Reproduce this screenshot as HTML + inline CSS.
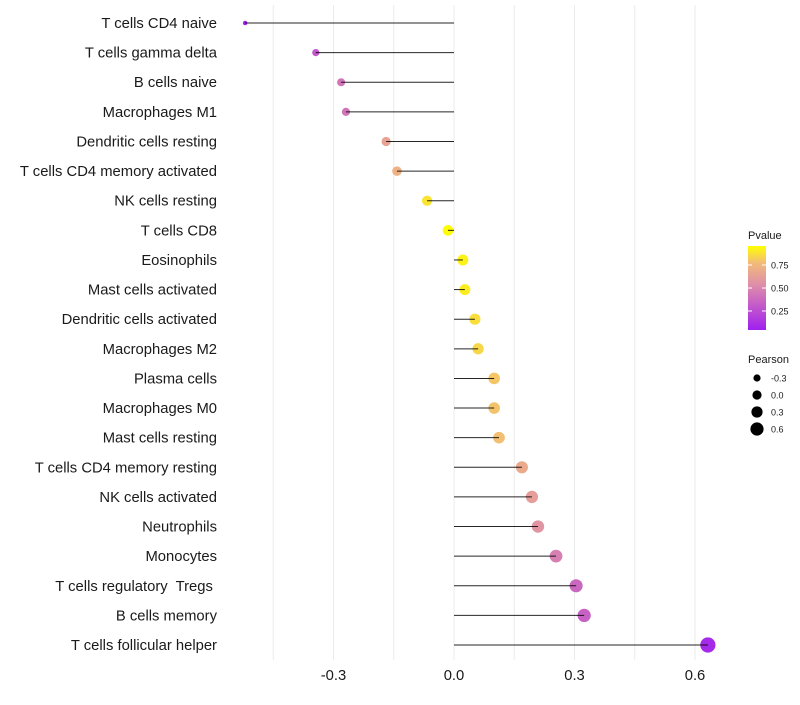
<!DOCTYPE html>
<html><head><meta charset="utf-8"><style>
body{margin:0;background:#fff;font-family:"Liberation Sans",sans-serif;}
svg text{font-family:"Liberation Sans",sans-serif;white-space:pre;}
</style></head><body>
<svg id="chart" width="800" height="700" xmlns="http://www.w3.org/2000/svg">
<defs>
<linearGradient id="pg" x1="0" y1="1" x2="0" y2="0">
<stop offset="0" stop-color="#a020f0"/>
<stop offset="0.3" stop-color="#c45cc8"/>
<stop offset="0.55" stop-color="#df90a8"/>
<stop offset="0.8" stop-color="#f2bc78"/>
<stop offset="1" stop-color="#ffff00"/>
</linearGradient>
</defs>
<g id="grid"></g>
<g id="marks"></g>
<g id="labels"></g>
<g id="legend"></g>
</svg>
<script>
const categories=["T cells CD4 naive","T cells gamma delta","B cells naive","Macrophages M1","Dendritic cells resting","T cells CD4 memory activated","NK cells resting","T cells CD8","Eosinophils","Mast cells activated","Dendritic cells activated","Macrophages M2","Plasma cells","Macrophages M0","Mast cells resting","T cells CD4 memory resting","NK cells activated","Neutrophils","Monocytes","T cells regulatory  Tregs ","B cells memory","T cells follicular helper"];
const pearson=[-0.52,-0.344,-0.281,-0.269,-0.169,-0.142,-0.067,-0.015,0.022,0.027,0.052,0.060,0.100,0.100,0.112,0.169,0.194,0.209,0.254,0.304,0.324,0.632];
const pvalue=[0.02,0.28,0.42,0.42,0.66,0.74,0.92,0.99,0.96,0.95,0.9,0.88,0.83,0.82,0.81,0.7,0.63,0.58,0.47,0.36,0.33,0.05];
const xTicks=[-0.3,0.0,0.3,0.6];
const xTickLabels=["-0.3","0.0","0.3","0.6"];
const ns="http://www.w3.org/2000/svg";
function x(v){return 454+v*401.7;}
function y(i){return 23+i*29.62;}
function r(v){return Math.sqrt(Math.max(3,29+46*v));}
function colorOf(p){
  const stops=[[0,[160,32,240]],[0.3,[196,92,200]],[0.55,[223,144,168]],[0.8,[242,188,120]],[1,[255,255,0]]];
  for(let k=1;k<stops.length;k++){if(p<=stops[k][0]){const a=stops[k-1],b=stops[k];const t=(p-a[0])/(b[0]-a[0]);
    return "rgb("+a[1].map((c,j)=>Math.round(c+(b[1][j]-c)*t)).join(",")+")";}}
  return "rgb(255,255,0)";
}
function el(t,attrs,parent){const e=document.createElementNS(ns,t);for(const k in attrs)e.setAttribute(k,attrs[k]);parent.appendChild(e);return e;}
const grid=document.getElementById('grid'),marks=document.getElementById('marks'),labels=document.getElementById('labels'),legend=document.getElementById('legend');
[-0.45,-0.3,-0.15,0,0.15,0.3,0.45,0.6].forEach(v=>{
  const g=el('line',{x1:x(v),x2:x(v),y1:5,y2:660,stroke:'#ebebeb','stroke-width':1},grid);
  
  
});
categories.forEach((c,i)=>{
  const pt=el('circle',{cx:x(pearson[i]),cy:y(i),r:r(pearson[i]),fill:colorOf(pvalue[i])},marks);
  
  
  const ln=el('line',{x1:x(0),x2:x(pearson[i]),y1:y(i),y2:y(i),stroke:'#000','stroke-width':1,'stroke-opacity':0.85},marks);
  
  
  const t=el('text',{x:217,y:y(i)+5,'text-anchor':'end','font-size':14.8,fill:'#1a1a1a'},labels);
  t.textContent=c;
  
  
});
xTicks.forEach((v,i)=>{
  const t=el('text',{x:x(v),y:680,'text-anchor':'middle','font-size':14.8,fill:'#1a1a1a'},labels);
  t.textContent=xTickLabels[i];
  
  
});
let t=el('text',{x:748,y:239,'font-size':11,fill:'#1a1a1a'},legend);t.textContent='Pvalue';


const bar=el('rect',{x:748,y:246,width:18,height:84,fill:'url(#pg)'},legend);


[[0.75,265],[0.50,288],[0.25,311]].forEach(([v,yy])=>{
  el('line',{x1:748,x2:752,y1:yy,y2:yy,stroke:'#fff'},legend);
  el('line',{x1:762,x2:766,y1:yy,y2:yy,stroke:'#fff'},legend);
  const tt=el('text',{x:771,y:yy+3.5,'font-size':9,fill:'#1a1a1a'},legend);tt.textContent=v.toFixed(2);
  
  
});
t=el('text',{x:748,y:363,'font-size':11,fill:'#1a1a1a'},legend);t.textContent='Pearson';


[[-0.3,"-0.3",378,3.6],[0,"0.0",395,4.6],[0.3,"0.3",412,5.6],[0.6,"0.6",429,6.6]].forEach(([v,lab,yy,rr])=>{
  const c=el('circle',{cx:757,cy:yy,r:rr,fill:'#000'},legend);
  
  
  const tt=el('text',{x:771,y:yy+3.5,'font-size':9,fill:'#1a1a1a'},legend);tt.textContent=lab;
  
  
});
</script>
</body></html>
